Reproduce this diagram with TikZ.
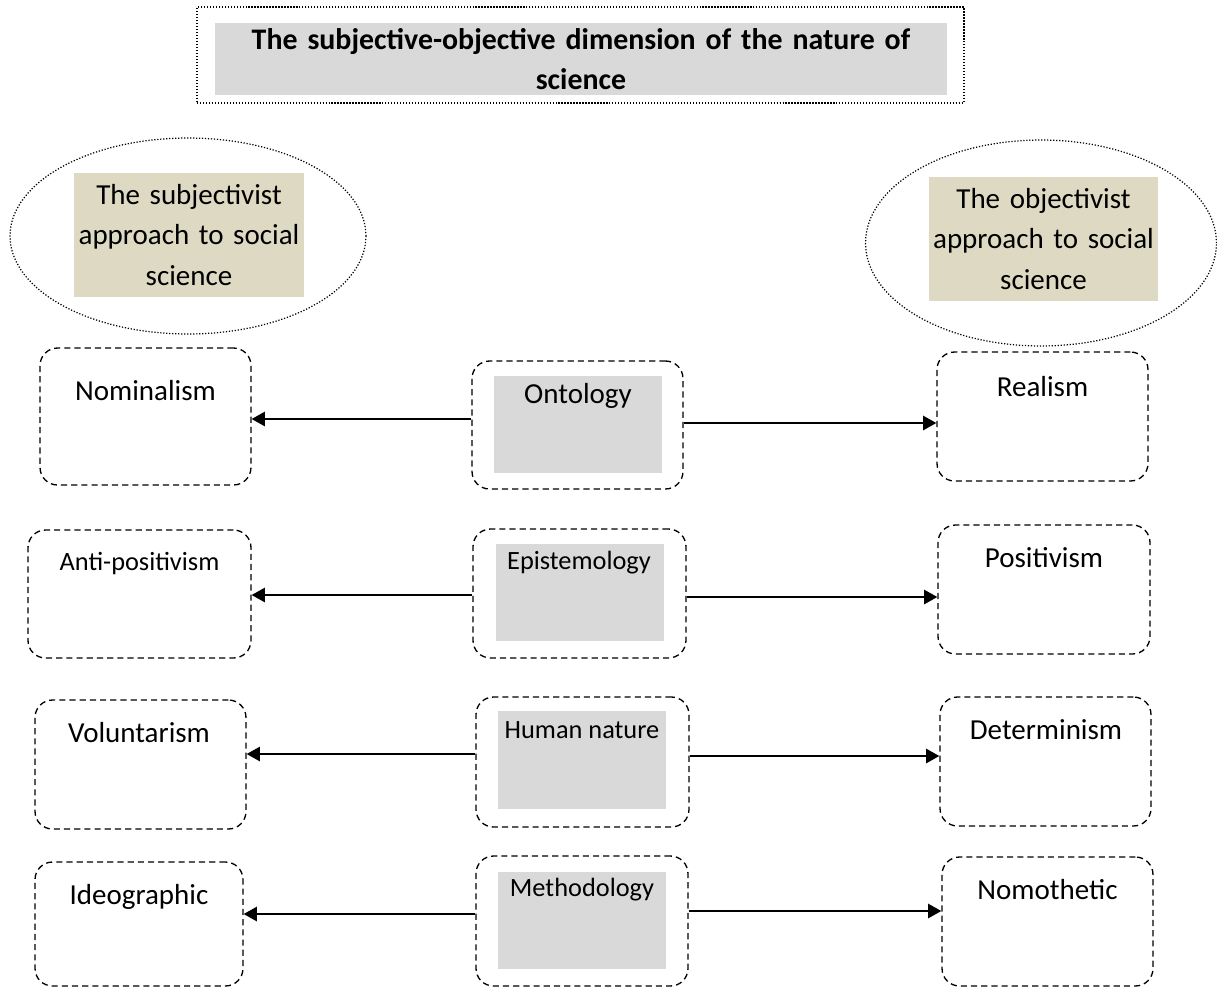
\documentclass[tikz,border=0pt]{standalone}
\usepackage{fontspec}
\setmainfont{Carlito}
\usetikzlibrary{arrows.meta, shapes.geometric}
\definecolor{boxgray}{HTML}{D9D9D9}
\definecolor{beige}{HTML}{DDD9C3}

\begin{document}
\begin{tikzpicture}[x=0.02cm, y=-0.02cm,
    dashbox/.style={draw, dash pattern=on 3.5pt off 2.3pt, line width=0.75pt, rounded corners=0.35cm, inner sep=0pt},
    dotbox/.style={draw, densely dotted, line width=0.7pt, inner sep=0pt},
    greybox/.style={fill=boxgray, inner sep=0pt},
    arr/.style={-{Triangle[length=7.5pt, width=8pt]}, line width=1.3pt},
    big/.style={font=\fontsize{16.5}{23}\selectfont, anchor=base, inner sep=0pt},
    small/.style={font=\fontsize{15}{18}\selectfont, anchor=base, inner sep=0pt}]
      \useasboundingbox (0,0) rectangle (1217,988);

      % Draw the title
      \node[dotbox, minimum width=15.34cm, minimum height=1.92cm] (frame) at (580.5,55) {};
      \node[greybox, minimum width=14.64cm, minimum height=1.46cm, text width=14.4cm, align=center,
        font=\fontsize{17}{22.7}\selectfont\bfseries] (title) at (581,59)
        {The subjective-objective dimension of the nature of\\ science};

      % Draw the two approaches
      \node[dotbox, ellipse, minimum width=7.12cm, minimum height=3.92cm] (subj) at (188,236) {};
      \node[fill=beige, inner sep=0pt, minimum width=4.6cm, minimum height=2.48cm, text width=4.5cm,
        align=center, font=\fontsize{16.5}{23}\selectfont] (subjt) at (189,235)
        {The subjectivist\\ approach to social\\ science};
      \node[dotbox, ellipse, minimum width=7.02cm, minimum height=4.12cm] (obj) at (1041,243) {};
      \node[fill=beige, inner sep=0pt, minimum width=4.58cm, minimum height=2.48cm, text width=4.5cm,
        align=center, font=\fontsize{16.5}{23}\selectfont] (objt) at (1043.5,239)
        {The objectivist\\ approach to social\\ science};

      % Draw the boxes in the middle
      \node[greybox, minimum width=3.36cm, minimum height=1.94cm] (ontg) at (578,424.5) {};
      \node[greybox, minimum width=3.36cm, minimum height=1.94cm] (epig) at (580,592.5) {};
      \node[greybox, minimum width=3.36cm, minimum height=1.96cm] (humg) at (582,760) {};
      \node[greybox, minimum width=3.36cm, minimum height=1.94cm] (methg) at (582,920.5) {};

      \node[dashbox, minimum width=4.22cm, minimum height=2.56cm] (ont) at (577.5,425) {};
      \node[dashbox, minimum width=4.26cm, minimum height=2.58cm] (epi) at (579.5,593.5) {};
      \node[dashbox, minimum width=4.26cm, minimum height=2.6cm] (hum) at (582.5,762) {};
      \node[dashbox, minimum width=4.24cm, minimum height=2.6cm] (meth) at (582,921) {};

      \node[big] (ontt) at (578,403) {Ontology};
      \node[small] (epit) at (579,569) {Epistemology};
      \node[small] (humt) at (582,738) {Human nature};
      \node[small] (metht) at (582,896) {Methodology};

      % Draw the boxes on the left
      \node[dashbox, minimum width=4.22cm, minimum height=2.74cm] (nom) at (145.5,416.5) {};
      \node[dashbox, minimum width=4.46cm, minimum height=2.56cm] (anti) at (139.5,594) {};
      \node[dashbox, minimum width=4.22cm, minimum height=2.58cm] (vol) at (140.5,764.5) {};
      \node[dashbox, minimum width=4.16cm, minimum height=2.48cm] (ideo) at (139,924) {};

      \node[big] (nomt) at (145.5,400) {Nominalism};
      \node[small] (antit) at (139.5,570) {Anti-positivism};
      \node[big] (volt) at (139,742) {Voluntarism};
      \node[big] (ideot) at (139,904) {Ideographic};

      % Draw the boxes on the right
      \node[dashbox, minimum width=4.22cm, minimum height=2.58cm] (real) at (1042.5,416.5) {};
      \node[dashbox, minimum width=4.24cm, minimum height=2.58cm] (pos) at (1044,589.5) {};
      \node[dashbox, minimum width=4.22cm, minimum height=2.58cm] (det) at (1045.5,761.5) {};
      \node[dashbox, minimum width=4.22cm, minimum height=2.58cm] (nomo) at (1047.5,921.5) {};

      \node[big] (realt) at (1042.5,396) {Realism};
      \node[big] (post) at (1044,567) {Positivism};
      \node[big] (dett) at (1046,739) {Determinism};
      \node[big] (nomot) at (1047.5,899) {Nomothetic};

      % Arrow start points
      \coordinate (ontl) at ([yshift=0.12cm]ont.west);
      \coordinate (ontr) at ([yshift=0.04cm]ont.east);
      \coordinate (epil) at ([yshift=-0.03cm]epi.west);
      \coordinate (epir) at ([yshift=-0.07cm]epi.east);
      \coordinate (huml) at ([yshift=0.16cm]hum.west);
      \coordinate (humr) at ([yshift=0.12cm]hum.east);
      \coordinate (methl) at ([yshift=0.14cm]meth.west);
      \coordinate (methr) at ([yshift=0.2cm]meth.east);

      % Draw the arrows
      \draw[arr] (ontl) -- (ontl -| nom.east);
      \draw[arr] (ontr) -- (ontr -| real.west);
      \draw[arr] (epil) -- (epil -| anti.east);
      \draw[arr] (epir) -- (epir -| pos.west);
      \draw[arr] (huml) -- (huml -| vol.east);
      \draw[arr] (humr) -- (humr -| det.west);
      \draw[arr] (methl) -- (methl -| ideo.east);
      \draw[arr] (methr) -- (methr -| nomo.west);

    \end{tikzpicture}
\end{document}
